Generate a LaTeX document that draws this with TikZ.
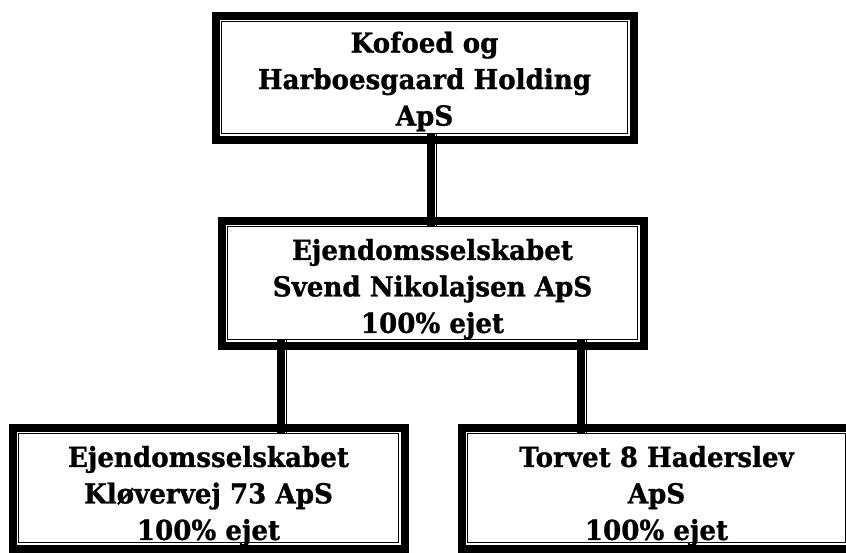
\documentclass[tikz,border=0pt]{standalone}
\usepackage{fontspec}
\setmainfont[FakeStretch=0.95,BoldFeatures={FakeBold=1}]{DejaVu Serif}
\begin{document}
\begin{tikzpicture}[x=1pt,y=1pt,
  box/.style={rectangle, draw=black, line width=1.2pt, fill=white, inner sep=0pt, outer sep=0pt},
  txt/.style={inner sep=0pt, align=center, font=\fontsize{27.5}{36.5}\selectfont\bfseries},
  frame/.style={draw=black, line width=8pt},
  bar/.style={draw=black, line width=8pt},
  thinl/.style={draw=black, line width=1.2pt}]
\clip (0,0) rectangle (846,-552);
\fill[white] (0,0) rectangle (846,-552);

\node[box, minimum width=406pt, minimum height=112pt] (k) at (424.5,-77.5) {};
\node[box, minimum width=410pt, minimum height=113pt] (m) at (432.5,-283) {};
\node[box, minimum width=380pt, minimum height=109pt] (l) at (208.5,-488) {};
\node[box, minimum width=378pt, minimum height=109pt] (r) at (656.5,-488) {};

\node[txt] (kt) at ([yshift=-4pt]k.center) {Kofoed og\\Harboesgaard Holding\\ApS};
\node[txt] (mt) at ([yshift=-6pt]m.center) {Ejendomsselskabet\\Svend Nikolajsen ApS\\100\% ejet};
\node[txt] (lt) at ([yshift=-8pt]l.center) {Ejendomsselskabet\\Kløvervej 73 ApS\\100\% ejet};
\node[txt] (rt) at ([yshift=-8pt]r.center) {Torvet 8 Haderslev\\ApS\\100\% ejet};

% connectors
\draw[bar] ([xshift=6.5pt]k.south) -- ([xshift=6.5pt]k.south |- m.north);
\draw[thinl] ([xshift=12pt]k.south) -- ([xshift=12pt]k.south |- m.north);
\draw[bar] ([xshift=-151.5pt]m.south) -- ([xshift=-151.5pt]m.south |- l.north);
\draw[thinl] ([xshift=-146pt]m.south) -- ([xshift=-146pt]m.south |- l.north);
\draw[bar] ([xshift=148.5pt]m.south) -- ([xshift=148.5pt]m.south |- r.north);
\draw[thinl] ([xshift=154pt]m.south) -- ([xshift=154pt]m.south |- r.north);

% thick outer frames
\foreach \n in {k,m,l,r}
  \draw[frame] ([shift={(-6pt,6pt)}]\n.north west) rectangle ([shift={(6pt,-6pt)}]\n.south east);
\end{tikzpicture}
\end{document}
